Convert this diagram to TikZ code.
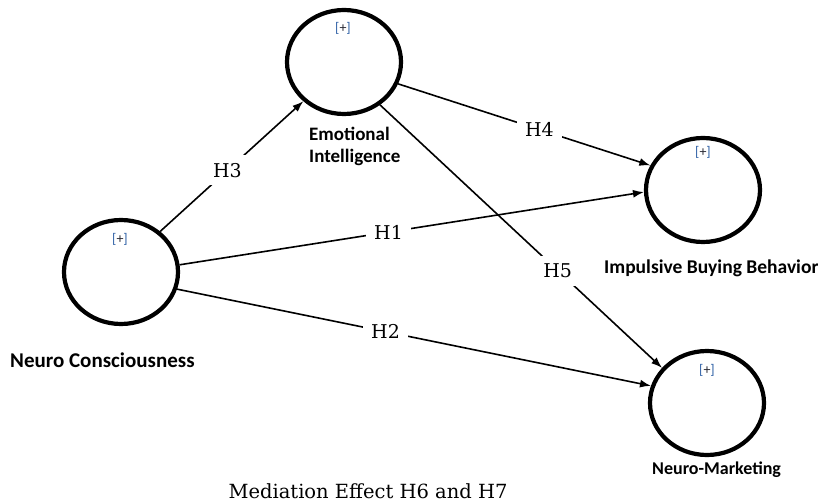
\documentclass[tikz,border=0pt]{standalone}
\usepackage{fontspec}
\newfontfamily\lblfont{Carlito}
\newfontfamily\hfont{DejaVu Serif}
\usetikzlibrary{arrows.meta,shapes.geometric}
\definecolor{plusblue}{RGB}{45,95,165}
\definecolor{plusdark}{RGB}{40,40,50}
\newcommand{\plusmark}{\textcolor{plusblue}{[}\textcolor{plusdark}{+}\textcolor{plusblue}{]}}
\begin{document}
\begin{tikzpicture}[x=1pt,y=-1pt,
  construct/.style={ellipse,draw=black,line width=4.2pt,minimum width=114pt,minimum height=104pt,inner sep=0pt},
  hyp/.style={-{Latex[length=11pt,width=8pt]},line width=1.6pt},
  hlabel/.style={fill=white,inner sep=8pt,font=\hfont\fontsize{19}{22}\selectfont},
  cname/.style={font=\lblfont\bfseries,inner sep=0pt},
  plus/.style={font=\lblfont\fontsize{14}{15}\selectfont,inner sep=0pt}]
\useasboundingbox (0,0) rectangle (818,502);
\node[construct] (ei) at (344,62) {};
\node[construct] (nc) at (121,272) {};
\node[construct] (ibb) at (703,190) {};
\node[construct] (nm) at (707,403) {};
\node[plus] (p1) at (343,28) {\plusmark};
\node[plus] (p2) at (120,239) {\plusmark};
\node[plus] (p3) at (703,152) {\plusmark};
\node[plus] (p4) at (707,370) {\plusmark};
\node[cname,anchor=west,align=left,font=\lblfont\bfseries\fontsize{19}{22}\selectfont] (eil) at (309,146) {Emotional\\Intelligence};
\node[cname,anchor=west,font=\lblfont\bfseries\fontsize{19.5}{22}\selectfont] (ibbl) at (604,268) {Impulsive Buying Behavior};
\node[cname,anchor=west,font=\lblfont\bfseries\fontsize{21}{24}\selectfont] (ncl) at (10,360) {Neuro Consciousness};
\node[cname,anchor=west,font=\lblfont\bfseries\fontsize{18}{21}\selectfont] (nml) at (652,470) {Neuro-Marketing};
\node[font=\hfont\fontsize{19.5}{22}\selectfont,inner sep=0pt] (cap) at (368,491) {Mediation Effect H6 and H7};
\draw[hyp] (nc.46) -- node[hlabel,pos=0.47] {H3} (ei.224);
\draw[hyp] (nc.7) -- node[hlabel,pos=0.45] {H1} (ibb.182);
\draw[hyp] (nc.-17) -- node[hlabel,pos=0.44] {H2} (nm.163);
\draw[hyp] (ei.-22) -- node[hlabel,pos=0.56] {H4} (ibb.155);
\draw[hyp] (ei.-50) -- node[hlabel,pos=0.63] {H5} (nm.142);
\end{tikzpicture}
\end{document}
